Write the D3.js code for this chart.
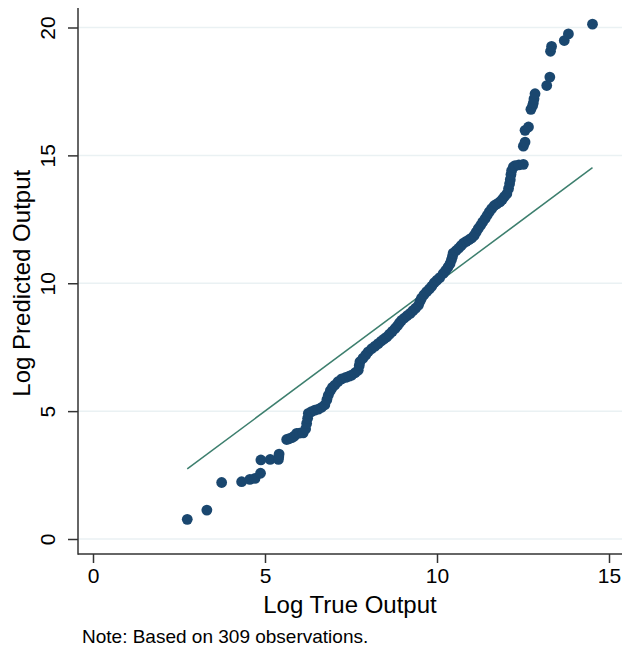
<!DOCTYPE html>
<html>
<head>
<meta charset="utf-8">
<script src="https://cdn.jsdelivr.net/npm/d3@7"></script>
<style>
  body { margin: 0; background: #fff; }
  text { font-family: 'Liberation Sans', Arial, sans-serif; fill: #000; }
</style>
</head>
<body>
<script>
// Quantiles of log true output (x) and log predicted output (y)
const trueQ = [
    2.74, 3.31, 3.74, 4.32, 4.56, 4.71, 4.87,
    4.88, 5.15, 5.39, 5.40, 5.41, 5.63, 5.70, 5.78,
    5.85, 5.92, 6.00, 6.11, 6.18, 6.21, 6.24, 6.26, 6.35, 6.45,
    6.55, 6.65, 6.74, 6.80, 6.84, 6.90, 6.96, 7.03, 7.12, 7.23,
    7.35, 7.45, 7.52, 7.62, 7.71, 7.74, 7.76, 7.85, 7.93, 8.00,
    8.10, 8.20, 8.29, 8.38, 8.46, 8.54, 8.62, 8.70, 8.78, 8.85,
    8.91, 8.97, 9.05, 9.13, 9.22, 9.30, 9.38, 9.46, 9.51, 9.55,
    9.62, 9.70, 9.78, 9.85, 9.92, 10.00, 10.08, 10.18, 10.25, 10.32,
    10.38, 10.42, 10.45, 10.47, 10.55, 10.63, 10.70, 10.77, 10.85, 10.93,
    11.01, 11.08, 11.14, 11.20, 11.27, 11.33, 11.40, 11.46, 11.52, 11.59,
    11.66, 11.74, 11.83, 11.90, 11.96, 12.03, 12.08, 12.11, 12.13, 12.15,
    12.17, 12.22, 12.27, 12.38, 12.51, 12.51, 12.56, 12.56, 12.66, 12.73,
    12.78, 12.80, 12.82, 12.85, 13.19, 13.28, 13.30, 13.33, 13.70, 13.82,
    14.52
]
const predQ = [
    0.77, 1.13, 2.21, 2.24, 2.33, 2.37, 2.57,
    3.09, 3.11, 3.11, 3.22, 3.32, 3.89, 3.92, 3.96,
    4.02, 4.13, 4.14, 4.15, 4.30, 4.52, 4.72, 4.91, 4.98, 5.04,
    5.08, 5.15, 5.25, 5.45, 5.62, 5.80, 5.93, 6.02, 6.15, 6.26,
    6.32, 6.37, 6.41, 6.50, 6.60, 6.78, 6.93, 7.07, 7.20, 7.32,
    7.44, 7.54, 7.64, 7.74, 7.82, 7.90, 8.01, 8.12, 8.23, 8.34,
    8.45, 8.55, 8.64, 8.73, 8.82, 8.93, 9.03, 9.14, 9.30, 9.42,
    9.55, 9.67, 9.78, 9.89, 10.02, 10.12, 10.22, 10.38, 10.50, 10.63,
    10.77, 10.92, 11.05, 11.18, 11.27, 11.37, 11.47, 11.57, 11.64, 11.70,
    11.77, 11.87, 12.00, 12.14, 12.27, 12.40, 12.53, 12.66, 12.79, 12.92,
    13.03, 13.10, 13.18, 13.28, 13.39, 13.50, 13.70, 13.89, 14.05, 14.25,
    14.41, 14.55, 14.60, 14.63, 14.65, 15.36, 15.52, 15.98, 16.11, 16.80,
    16.95, 17.05, 17.21, 17.41, 17.73, 18.06, 19.07, 19.26, 19.49, 19.75,
    20.13
]
const xTicks = [0, 5, 10, 15]
const yTicks = [0, 5, 10, 15, 20]

const width = 623
const height = 652
// plot box (axis spines)
const box = { left: 78, right: 622, top: 8, bottom: 554 }

const svg = d3.select('body').append('svg')
    .attr('width', width)
    .attr('height', height)

const xScale = d3.scaleLinear()
    .domain([0, 15])
    .range([93, 609])

const yScale = d3.scaleLinear()
    .domain([0, 20])
    .range([539, 27.5])

// Gridlines
svg.append('g')
    .selectAll('line')
    .data(yTicks)
    .join('line')
        .attr('x1', box.left)
        .attr('x2', box.right)
        .attr('y1', d => yScale(d))
        .attr('y2', d => yScale(d))
        .style('stroke', '#eaf1f3')
        .style('stroke-width', 1.5)

// Reference line y = x over the range of true output
const ext = d3.extent(trueQ)
svg.append('line')
    .attr('x1', xScale(ext[0]))
    .attr('y1', yScale(ext[0]))
    .attr('x2', xScale(ext[1]))
    .attr('y2', yScale(ext[1]))
    .style('stroke', '#3d7f6e')
    .style('stroke-width', 1.5)

// Points
svg.append('g')
    .selectAll('circle')
    .data(trueQ)
    .join('circle')
        .attr('cx', d => xScale(d))
        .attr('cy', (d, i) => yScale(predQ[i]))
        .attr('r', 5.4)
        .style('fill', '#1a476f')

// X axis
const xAxis = svg.append('g')
    .attr('transform', `translate(0, ${box.bottom})`)
    .call(d3.axisBottom(xScale).tickValues(xTicks).tickSize(9).tickPadding(5))
xAxis.select('.domain').remove()
xAxis.selectAll('.tick line').style('stroke', '#333').style('stroke-width', 1.5)
xAxis.selectAll('.tick text').style('font-size', '21px').style('font-family', 'Liberation Sans, Arial, sans-serif')

// Y axis, labels rotated like Stata
const yAxis = svg.append('g')
    .attr('transform', `translate(${box.left}, 0)`)
    .call(d3.axisLeft(yScale).tickValues(yTicks).tickSize(10).tickPadding(5))
yAxis.select('.domain').remove()
yAxis.selectAll('.tick line').style('stroke', '#333').style('stroke-width', 1.5)
yAxis.selectAll('.tick text')
    .style('font-size', '21px')
    .style('font-family', 'Liberation Sans, Arial, sans-serif')
    .attr('x', null)
    .attr('dy', null)
    .attr('text-anchor', 'middle')
    .attr('transform', 'translate(-23, 0) rotate(-90)')

// Spines
svg.append('line')
    .attr('x1', box.left).attr('x2', box.left)
    .attr('y1', box.top).attr('y2', box.bottom + 0.75)
    .style('stroke', '#333').style('stroke-width', 1.5)
svg.append('line')
    .attr('x1', box.left).attr('x2', box.right)
    .attr('y1', box.bottom).attr('y2', box.bottom)
    .style('stroke', '#333').style('stroke-width', 1.5)

// Axis titles
svg.append('text')
    .attr('x', (box.left + box.right) / 2)
    .attr('y', 613)
    .attr('text-anchor', 'middle')
    .style('font-size', '24px')
    .text('Log True Output')

svg.append('text')
    .attr('transform', `translate(30, ${yScale(10)}) rotate(-90)`)
    .attr('text-anchor', 'middle')
    .style('font-size', '24px')
    .text('Log Predicted Output')

// Note
svg.append('text')
    .attr('x', 82)
    .attr('y', 643)
    .style('font-size', '19px')
    .text('Note: Based on 309 observations.')
</script>
</body>
</html>
